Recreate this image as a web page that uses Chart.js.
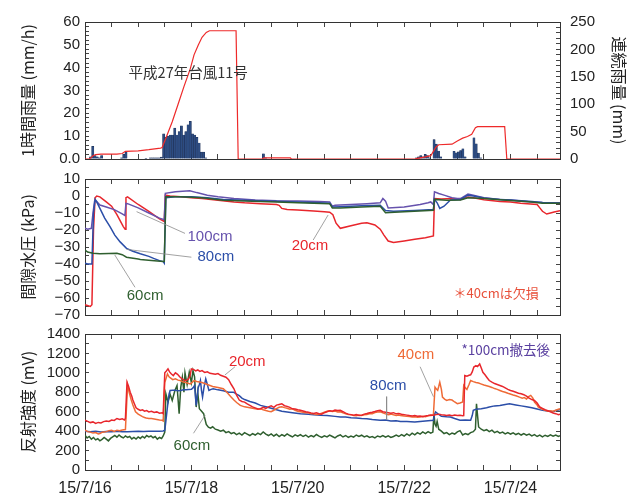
<!DOCTYPE html>
<html><head><meta charset="utf-8">
<script src="https://cdn.jsdelivr.net/npm/chart.js@4.4.1/dist/chart.umd.min.js"></script>
<style>
html,body{margin:0;padding:0;background:#fff;}
#wrap{position:relative;width:637px;height:497px;overflow:hidden;}
canvas{position:absolute;left:0;}
</style></head><body>
<div id="wrap">
<canvas id="c1" width="637" height="168" style="top:0px"></canvas>
<canvas id="c2" width="637" height="157" style="top:168px"></canvas>
<canvas id="c3" width="637" height="172" style="top:325px"></canvas>
</div>
<script>
// ---------- DATA (x = days since 15/7/16 00:00) ----------
const XMAX = 8.93;
const dateTickDays = [0, 2, 4, 6, 8];
const dateTickLabels = ['15/7/16', '15/7/18', '15/7/20', '15/7/22', '15/7/24'];

// hourly rainfall (mm/h) : hour index since 15/7/16 00:00
const rainHour = [2,3,4,5,6,7,16,17,18,27,29,30,31,32,33,34,35,36,37,38,39,40,41,42,43,44,45,46,47,48,49,50,51,52,53,54,80,81,149,150,151,152,153,154,155,157,158,159,160,166,167,168,169,170,171,175,176,177,178];
const rainMm   = [1.0,5.5,1.5,1.0,0.5,1.5,0.5,2.0,3.0,0.3,0.5,0.5,0.5,0.5,0.5,0.8,11,9.5,10,10.5,10.5,13.5,10.5,12,14.5,10.5,12,15,16.5,11,10.5,9.5,7,3,3,0.5,2.3,0.5,0.5,1.0,1.5,1.0,2.0,1.5,0.5,8.5,6.5,3.5,1.0,3.4,2.7,3.1,3.7,4.5,1.0,9.3,6.6,2.6,0.5];

// continuous rainfall (mm)
const cumDay = [0,0.08,0.12,0.15,0.2,0.3,0.6,0.7,0.76,1.0,1.2,1.42,1.45,1.52,1.64,1.75,1.86,1.98,2.05,2.13,2.2,2.28,2.34,2.84,2.88,3.33,3.36,3.86,3.88,6.2,6.25,6.4,6.5,6.55,6.6,6.65,6.9,7.0,7.1,7.19,7.27,7.34,7.38,7.89,7.93,8.93];
const cumMm  = [0,0,3,6,8,9,9,10,14,15,17,20,21,38,68,100,132,165,190,208,222,231,234,234,0,0,2,2,0,0,1,4,6,14,22,26,27,33,38,41,45,57,59,59,0,0];

// pore water pressure (kPa)
const pw20Day = [0,0.10,0.13,0.16,0.19,0.22,0.28,0.4,0.5,0.6,0.66,0.72,0.755,0.77,0.80,1.0,1.2,1.4,1.49,1.51,1.6,1.8,2.0,2.2,2.5,2.8,3.0,3.3,3.6,3.65,3.7,3.8,4.0,4.3,4.5,4.6,4.66,4.72,4.8,5.0,5.2,5.3,5.45,5.55,5.62,5.7,5.8,6.0,6.2,6.4,6.55,6.57,6.7,6.9,7.06,7.2,7.3,7.5,7.8,8.0,8.19,8.5,8.55,8.6,8.68,8.75,8.82,8.93];
const pw20    = [-64,-65,-64,-20,-1,0,-0.5,-3.5,-6,-11,-14.5,-18,-19.5,-1,-0.5,-5,-9,-13.5,-15,0.5,0,-0.5,-1,-1.5,-2.5,-3.5,-4,-4.5,-5,-5.5,-7.3,-8,-8.3,-8.8,-9.2,-9.5,-11,-16,-19,-17.5,-16,-15.8,-17,-19.5,-23,-26.5,-27.4,-26.5,-25.5,-24.5,-23.5,-1.5,-1.8,-1.5,-2,-0.6,-1,-2.2,-3.2,-3.6,-4.3,-5,-7,-9,-10.6,-10,-9.4,-8.6];
const pw60Day = [0,0.05,0.15,0.28,0.45,0.6,0.7,0.78,1.0,1.04,1.25,1.47,1.49,1.52,1.8,2.2,2.6,3.0,3.6,4.0,4.6,4.65,4.8,5.2,5.55,5.65,6.0,6.55,6.57,6.8,7.06,7.2,7.5,7.8,8.0,8.4,8.6,8.93];
const pw60    = [-31.8,-33,-33.7,-34,-33.8,-33.7,-34.5,-36,-37,-37.3,-38,-38.6,-38.6,-0.4,-0.5,-1,-2.5,-3,-3.5,-4,-4.5,-7,-7,-6.5,-6,-9.8,-9.3,-8.4,-2,-2.5,-2.4,-1,-1.4,-2.2,-2.6,-3.5,-4.2,-4.3];
const pw80Day = [0,0.05,0.13,0.16,0.19,0.22,0.28,0.37,0.47,0.56,0.66,0.78,0.9,1.04,1.2,1.29,1.4,1.47,1.49,1.52,1.7,2.0,2.3,2.6,3.0,3.4,4.0,4.4,4.6,4.65,4.8,5.2,5.55,5.65,5.8,6.2,6.55,6.57,6.62,6.67,6.75,6.87,7.06,7.2,7.3,7.5,7.8,8.0,8.4,8.6,8.93];
const pw80    = [-39.5,-40,-40,-10,-2,-3.5,-7.3,-13,-18,-23,-27,-30.8,-32.5,-34,-35.5,-36.7,-38,-38.6,-39.5,-1,-0.5,-0.5,-1,-2,-2.5,-3,-3.5,-4,-4.3,-6.5,-6.3,-5.8,-5.5,-8.5,-9,-8.5,-8,-2,-4,-7.3,-6,-2.4,-2,0.5,0,-1.2,-2,-2.4,-3.2,-3.8,-4.3];
const pw100Day = [0,0.05,0.12,0.15,0.18,0.2,0.28,0.4,0.55,0.7,0.75,0.77,0.8,1.0,1.2,1.4,1.49,1.51,1.7,1.97,2.1,2.3,2.5,2.8,3.2,3.6,4.0,4.4,4.6,4.65,4.7,5.0,5.3,5.55,5.6,5.65,5.7,6.0,6.3,6.45,6.5,6.55,6.57,6.65,6.75,6.9,7.0,7.06,7.2,7.3,7.5,7.8,8.0,8.4,8.6,8.93];
const pw100    = [-19,-19.5,-19,-10,-3,-2.5,-5.3,-6.5,-8,-10.5,-11.5,-4.3,-4.5,-7,-10,-13,-14,1.6,2.5,3.1,2,0.5,-0.5,-1.5,-2.3,-2.8,-3,-3.3,-3.5,-6,-5.5,-5,-4.5,-4,-1.5,-3,-7,-6.5,-5,-4,-3.5,-5,2.5,1.5,0.5,-1,-1.5,-1.5,1.2,0.5,-1,-2,-2.4,-3.5,-3.8,-4];

// reflection intensity (mV)
const rf20Day = [0,0.05,0.1,0.15,0.2,0.25,0.3,0.35,0.4,0.45,0.5,0.55,0.6,0.65,0.7,0.74,0.76,0.79,0.82,0.85,0.88,0.9,0.93,0.96,1.0,1.04,1.08,1.12,1.16,1.2,1.25,1.3,1.35,1.4,1.45,1.47,1.5,1.53,1.56,1.59,1.62,1.66,1.7,1.74,1.78,1.82,1.86,1.9,1.94,1.97,2.0,2.04,2.08,2.12,2.16,2.2,2.25,2.3,2.35,2.4,2.45,2.5,2.55,2.6,2.65,2.7,2.75,2.8,2.85,2.9,2.95,3.0,3.05,3.1,3.15,3.2,3.25,3.3,3.35,3.4,3.45,3.5,3.55,3.6,3.65,3.7,3.75,3.8,3.85,3.9,3.95,4.0,4.05,4.1,4.15,4.2,4.25,4.3,4.35,4.4,4.45,4.5,4.55,4.6,4.65,4.7,4.75,4.8,4.85,4.9,4.95,5.0,5.05,5.1,5.15,5.2,5.25,5.3,5.35,5.4,5.45,5.5,5.55,5.6,5.65,5.7,5.75,5.8,5.85,5.9,5.95,6.0,6.05,6.1,6.15,6.2,6.25,6.3,6.35,6.4,6.45,6.5,6.55,6.6,6.65,6.7,6.75,6.8,6.85,6.9,6.95,7.0,7.05,7.1,7.12,7.14,7.18,7.22,7.25,7.28,7.31,7.35,7.38,7.42,7.45,7.48,7.52,7.56,7.6,7.65,7.7,7.75,7.8,7.85,7.9,7.95,8.0,8.05,8.1,8.15,8.2,8.25,8.3,8.35,8.4,8.45,8.5,8.55,8.6,8.65,8.7,8.75,8.8,8.85,8.9,8.93];
const rf20    = [512,500,488,495,480,490,485,498,505,500,515,510,530,520,528,515,530,904,860,800,760,720,680,640,625,614,620,605,612,598,605,592,598,585,590,580,1000,1020,1041,1010,990,972,1000,985,960,940,925,921,935,960,1040,1035,1020,1030,1015,1023,1005,1010,995,990,985,992,975,965,955,930,880,836,770,720,705,699,680,665,650,640,628,631,645,635,650,660,645,668,675,682,662,655,645,630,628,621,615,608,600,595,588,582,590,580,575,590,600,610,605,618,612,614,600,585,575,570,565,570,562,563,575,582,590,595,602,610,614,600,595,590,585,590,578,582,575,570,565,560,556,560,553,555,548,556,560,565,563,570,575,568,565,560,566,558,565,560,563,558,560,972,965,975,980,1010,1060,1075,1065,1092,1050,1006,980,950,921,905,890,880,870,860,845,830,819,810,800,790,785,775,760,740,725,716,690,648,635,620,610,598,587,580,570,575];
const rf40Day = [0,0.05,0.1,0.15,0.2,0.25,0.28,0.32,0.36,0.4,0.45,0.5,0.55,0.6,0.65,0.7,0.76,0.8,0.83,0.87,0.9,0.95,1.0,1.04,1.08,1.12,1.15,1.2,1.25,1.3,1.35,1.4,1.45,1.47,1.5,1.55,1.58,1.6,1.65,1.7,1.75,1.79,1.85,1.9,1.95,1.98,2.02,2.05,2.1,2.15,2.2,2.3,2.4,2.5,2.6,2.65,2.7,2.75,2.8,2.85,2.92,3.0,3.1,3.2,3.25,3.3,3.35,3.4,3.45,3.5,3.55,3.6,3.65,3.7,3.75,3.8,3.85,3.9,3.95,4.0,4.05,4.1,4.15,4.2,4.25,4.3,4.35,4.4,4.45,4.5,4.55,4.6,4.65,4.7,4.75,4.8,4.85,4.9,4.95,5.0,5.05,5.1,5.15,5.2,5.25,5.3,5.35,5.4,5.45,5.5,5.55,5.6,5.65,5.7,5.75,5.8,5.85,5.9,5.93,6.0,6.05,6.1,6.15,6.2,6.25,6.3,6.35,6.4,6.45,6.5,6.55,6.58,6.61,6.63,6.65,6.67,6.7,6.72,6.76,6.8,6.85,6.9,6.95,7.0,7.05,7.1,7.12,7.15,7.18,7.22,7.25,7.3,7.35,7.4,7.44,7.5,7.55,7.6,7.65,7.7,7.75,7.8,7.85,7.9,7.95,7.98,8.05,8.1,8.17,8.22,8.26,8.3,8.34,8.38,8.42,8.45,8.5,8.52,8.58,8.65,8.7,8.75,8.8,8.85,8.9,8.93];
const rf40    = [409,395,390,380,385,372,375,388,392,395,405,409,398,410,405,412,416,870,800,720,670,600,575,563,550,540,535,530,529,525,520,515,512,505,900,990,960,950,930,938,925,921,905,900,890,887,905,921,912,905,900,880,860,850,836,810,780,750,720,695,665,650,640,631,625,630,620,612,605,600,615,632,645,650,642,635,625,630,615,605,600,595,590,590,580,578,572,575,585,595,605,610,602,608,598,600,588,578,572,570,562,558,565,560,568,572,578,580,592,598,600,588,578,570,575,568,562,565,560,555,552,550,545,548,542,546,552,548,558,562,565,853,830,820,860,904,830,750,730,716,725,720,700,682,690,700,870,845,830,880,921,910,900,895,887,875,868,860,850,838,830,819,808,800,790,785,772,765,750,740,745,730,755,768,740,700,670,648,630,614,605,610,605,615,625,631];
const rf60Day = [0,0.04,0.08,0.12,0.16,0.2,0.24,0.28,0.32,0.36,0.4,0.44,0.48,0.52,0.56,0.6,0.64,0.68,0.72,0.76,0.8,0.84,0.88,0.92,0.96,1.0,1.04,1.08,1.12,1.16,1.2,1.24,1.28,1.32,1.36,1.4,1.44,1.47,1.5,1.52,1.56,1.6,1.64,1.69,1.73,1.77,1.8,1.83,1.86,1.88,1.92,1.96,2.0,2.03,2.06,2.09,2.12,2.15,2.2,2.23,2.28,2.32,2.36,2.4,2.45,2.5,2.55,2.6,2.65,2.7,2.75,2.8,2.85,2.9,2.95,3.0,3.05,3.1,3.15,3.2,3.25,3.3,3.35,3.4,3.45,3.5,3.55,3.6,3.65,3.7,3.75,3.8,3.85,3.9,3.95,4.0,4.05,4.1,4.15,4.2,4.25,4.3,4.35,4.4,4.45,4.5,4.55,4.6,4.65,4.7,4.75,4.8,4.85,4.9,4.95,5.0,5.05,5.1,5.15,5.2,5.25,5.3,5.35,5.4,5.45,5.5,5.55,5.6,5.65,5.7,5.75,5.8,5.85,5.9,5.95,6.0,6.05,6.1,6.15,6.2,6.25,6.3,6.35,6.4,6.45,6.5,6.54,6.56,6.58,6.6,6.62,6.65,6.7,6.75,6.8,6.85,6.9,6.95,7.0,7.05,7.08,7.1,7.15,7.2,7.25,7.3,7.34,7.36,7.38,7.4,7.45,7.5,7.55,7.6,7.65,7.7,7.75,7.8,7.85,7.9,7.95,8.0,8.05,8.1,8.15,8.2,8.25,8.3,8.35,8.4,8.45,8.5,8.55,8.6,8.65,8.7,8.75,8.8,8.85,8.9,8.93];
const rf60    = [358,330,345,318,335,310,322,300,315,335,318,300,325,340,355,338,360,342,330,350,335,345,320,335,318,340,325,345,330,355,340,350,332,345,318,335,325,350,390,785,700,780,716,819,870,580,850,955,800,1000,880,1006,900,1023,960,648,800,631,600,580,470,440,430,445,420,412,400,410,385,395,375,385,365,380,360,385,370,355,375,360,380,365,392,370,355,372,350,368,345,365,350,372,355,340,362,348,365,345,360,338,355,342,365,348,335,352,340,360,345,330,350,362,340,355,335,350,338,360,345,358,340,352,335,345,330,350,340,355,338,352,335,345,360,345,365,350,372,355,380,362,385,370,392,375,395,380,390,580,470,450,500,420,400,375,385,365,380,370,392,405,380,360,375,365,385,395,420,682,560,443,420,405,415,395,410,385,398,380,390,372,385,370,382,365,378,360,375,358,370,352,365,345,360,342,358,345,362,348,360,345,352];
const rf80Day = [0,0.1,0.2,0.3,0.4,0.5,0.6,0.7,0.8,0.9,1.0,1.1,1.2,1.3,1.4,1.47,1.5,1.52,1.55,1.58,1.6,1.65,1.7,1.75,1.8,1.85,1.9,1.95,2.0,2.03,2.06,2.09,2.11,2.13,2.15,2.17,2.19,2.21,2.24,2.27,2.3,2.33,2.37,2.41,2.5,2.6,2.7,2.79,2.85,2.9,2.95,3.0,3.05,3.1,3.2,3.3,3.42,3.5,3.6,3.7,3.8,3.9,4.05,4.2,4.3,4.43,4.55,4.7,4.8,4.9,5.0,5.1,5.2,5.3,5.4,5.55,5.65,5.75,5.85,5.93,6.05,6.2,6.3,6.45,6.55,6.57,6.59,6.63,6.7,6.8,6.87,6.95,7.05,7.15,7.25,7.28,7.3,7.35,7.45,7.55,7.6,7.7,7.8,7.9,7.98,8.1,8.2,8.3,8.4,8.5,8.6,8.7,8.8,8.85,8.93];
const rf80    = [400,395,398,392,396,395,398,393,395,397,398,396,400,398,400,402,410,500,650,780,819,822,820,815,819,825,826,828,830,845,870,665,760,850,880,921,820,750,860,938,880,819,830,836,825,815,800,801,780,765,740,725,716,705,690,665,648,635,620,605,597,590,580,575,568,563,560,552,546,545,538,535,530,528,520,512,515,505,508,500,498,495,500,508,512,570,597,580,553,548,546,530,512,515,512,560,614,625,631,640,648,660,665,675,682,670,660,650,640,628,614,608,600,612,620];

// ---------- helpers ----------
const NUMFONT = "'Liberation Sans', Arial, sans-serif";
const JPFONT = "'Noto Sans CJK JP', sans-serif";
const AXC = '#333';
const TXT = '#222';
const pts = (xs, ys) => xs.map((x, i) => ({x, y: ys[i]}));

function xScales(showLabels) {
  const mk = (pos) => ({
    type: 'linear', position: pos, min: 0, max: XMAX, offset: false,
    afterBuildTicks: s => { const t = []; for (let k = 0; k * 0.5 <= XMAX + 1e-9; k++) t.push({value: k * 0.5}); s.ticks = t; },
    afterFit: s => { s.height = (pos === 'bottom' && showLabels) ? 27 : 0; s.paddingLeft = 0; s.paddingRight = 0; s.paddingTop = 0; s.paddingBottom = 0; },
    grid: {drawOnChartArea: false, drawTicks: true, tickLength: -5, color: '#444', lineWidth: 1, offset: false},
    border: {display: true, color: AXC, width: 1},
    ticks: {
      display: pos === 'bottom' && showLabels, autoSkip: false, maxRotation: 0, minRotation: 0, padding: 14,
      color: TXT, font: {family: NUMFONT, size: 16},
      callback: v => { const i = dateTickDays.findIndex(d => Math.abs(d - v) < 1e-6); return i >= 0 ? dateTickLabels[i] : ''; }
    }
  });
  return {x: mk('bottom'), x2: mk('top')};
}
function yScale(pos, min, max, step, labelStep, fmt, title, width, showLabels) {
  return {
    type: 'linear', position: pos, min, max,
    afterBuildTicks: s => { const t = []; for (let v = min; v <= max + 1e-9; v += step) t.push({value: Math.round(v * 1000) / 1000}); s.ticks = t; },
    afterFit: s => { s.width = width; s.paddingTop = 0; s.paddingBottom = 0; s.paddingLeft = 0; s.paddingRight = 0; },
    grid: {drawOnChartArea: false, drawTicks: true, tickLength: -4, color: '#444', lineWidth: 1},
    border: {display: true, color: AXC, width: 1},
    ticks: {
      display: showLabels, autoSkip: false, padding: pos === 'left' ? 9 : 14,
      color: TXT, font: {family: NUMFONT, size: 15},
      callback: v => (Math.abs(v / labelStep - Math.round(v / labelStep)) < 1e-6 ? fmt(v) : '')
    },
    title: title ? {display: true, text: title, color: TXT, font: {family: JPFONT, size: 16},
      padding: pos === 'left' ? {top: 18, bottom: 0} : {top: 8, bottom: 0}} : {display: false}
  };
}
function textPlugin(items, yId) {
  return {
    id: 'texts' + Math.random().toString(36).slice(2),
    afterDatasetsDraw(chart) {
      const ctx = chart.ctx, xs = chart.scales.x, ys = chart.scales[yId];
      items.forEach(it => {
        ctx.save();
        ctx.font = it.font; ctx.fillStyle = it.color;
        ctx.textAlign = 'center'; ctx.textBaseline = 'middle';
        ctx.fillText(it.text, xs.getPixelForValue(it.x), ys.getPixelForValue(it.y));
        ctx.restore();
      });
    }
  };
}
const lineDs = (data, color, yId, w) => ({type: 'line', data, borderColor: color, borderWidth: w || 1.5, pointRadius: 0, tension: 0, fill: false, yAxisID: yId});
const leader = (x1, y1, x2, y2, yId) => ({type: 'line', data: [{x: x1, y: y1}, {x: x2, y: y2}], borderColor: '#8a8a8a', borderWidth: 0.8, pointRadius: 0, yAxisID: yId});
const baseOpts = (pad) => ({responsive: false, animation: false, events: [],
  layout: {padding: pad}, plugins: {legend: {display: false}, tooltip: {enabled: false}}});

const RED = '#e8262c', ORANGE = '#ef6a36', GREEN = '#2f5f2f', BLUE = '#2b4ea8', PURPLE = '#6652ad';

// ---------- Chart 1 : rainfall ----------
new Chart(document.getElementById('c1'), {
  type: 'bar',
  data: {datasets: [
    {type: 'line', data: pts(cumDay, cumMm), borderColor: '#ee2a2a', borderWidth: 1.2, pointRadius: 0, tension: 0, yAxisID: 'yR', order: 0},
    {type: 'bar', data: rainHour.map((h, i) => ({x: (h + 0.5) / 24, y: rainMm[i]})), backgroundColor: '#2d4c82', borderColor: '#1a2a4c', borderWidth: 0.4, barThickness: 2.2, yAxisID: 'y', order: 1}
  ]},
  options: Object.assign(baseOpts({top: 22, bottom: 9, left: 0, right: 0}), {
    scales: Object.assign(xScales(false), {
      y: yScale('left', 0, 60, 2, 10, v => v === 0 ? '0.0' : String(v), '1時間雨量 (mm/h)', 85, true),
      yR: yScale('right', 0, 250, 10, 50, v => String(v), '連続雨量 (mm)', 77, true)
    })
  }),
  plugins: [textPlugin([{text: '平成27年台風11号', x: 1.94, y: 38.1, color: '#333', font: '14.5px ' + JPFONT}], 'y')]
});

// ---------- Chart 2 : pore water pressure ----------
const minus = v => (v < 0 ? '\u2212' + Math.abs(v) : String(v));
new Chart(document.getElementById('c2'), {
  type: 'line',
  data: {datasets: [
    leader(1.88, -22, 0.97, -9.2, 'y'), leader(2.0, -36, 0.78, -31.4, 'y'),
    leader(0.94, -53.7, 0.56, -34.7, 'y'), leader(4.29, -25.9, 4.57, -11.2, 'y'),
    lineDs(pts(pw60Day, pw60), GREEN, 'y'),
    lineDs(pts(pw80Day, pw80), BLUE, 'y'),
    lineDs(pts(pw100Day, pw100), PURPLE, 'y'),
    lineDs(pts(pw20Day, pw20), RED, 'y')
  ]},
  options: Object.assign(baseOpts({top: 11, bottom: 10, left: 0, right: 0}), {
    scales: Object.assign(xScales(false), {
      y: yScale('left', -70, 10, 5, 10, minus, '間隙水圧 (kPa)', 85, true),
      yR: yScale('right', -70, 10, 5, 10, minus, null, 77, false)
    })
  }),
  plugins: [textPlugin([
    {text: '100cm', x: 2.35, y: -23.9, color: PURPLE, font: '15px ' + NUMFONT},
    {text: '80cm', x: 2.46, y: -36, color: BLUE, font: '15px ' + NUMFONT},
    {text: '60cm', x: 1.13, y: -58.8, color: GREEN, font: '15px ' + NUMFONT},
    {text: '20cm', x: 4.23, y: -29.4, color: RED, font: '15px ' + NUMFONT},
    {text: '＊40cmは欠損', x: 7.73, y: -56.9, color: '#e8503a', font: '13px ' + JPFONT}
  ], 'y')]
});

// ---------- Chart 3 : reflection intensity ----------
new Chart(document.getElementById('c3'), {
  type: 'line',
  data: {datasets: [
    leader(2.82, 1063, 2.63, 978, 'y'), leader(2.04, 378, 2.26, 566, 'y'),
    leader(5.67, 755, 5.67, 515, 'y'), leader(6.30, 1063, 6.55, 755, 'y'),
    lineDs(pts(rf20Day, rf20), RED, 'y'),
    lineDs(pts(rf40Day, rf40), ORANGE, 'y'),
    lineDs(pts(rf80Day, rf80), BLUE, 'y'),
    lineDs(pts(rf60Day, rf60), GREEN, 'y')
  ]},
  options: Object.assign(baseOpts({top: 9, bottom: 0, left: 0, right: 0}), {
    scales: Object.assign(xScales(true), {
      y: yScale('left', 0, 1400, 100, 200, v => String(v), '反射強度 (mV)', 85, true),
      yR: yScale('right', 0, 1400, 100, 200, v => String(v), null, 77, false)
    })
  }),
  plugins: [textPlugin([
    {text: '20cm', x: 3.05, y: 1115, color: RED, font: '15px ' + NUMFONT},
    {text: '60cm', x: 2.01, y: 247, color: GREEN, font: '15px ' + NUMFONT},
    {text: '80cm', x: 5.70, y: 868, color: BLUE, font: '15px ' + NUMFONT},
    {text: '40cm', x: 6.22, y: 1184, color: ORANGE, font: '15px ' + NUMFONT},
    {text: '*100cm撤去後', x: 7.91, y: 1235, color: '#5a40a0', font: '13.5px ' + JPFONT}
  ], 'y')]
});
</script>
</body></html>
